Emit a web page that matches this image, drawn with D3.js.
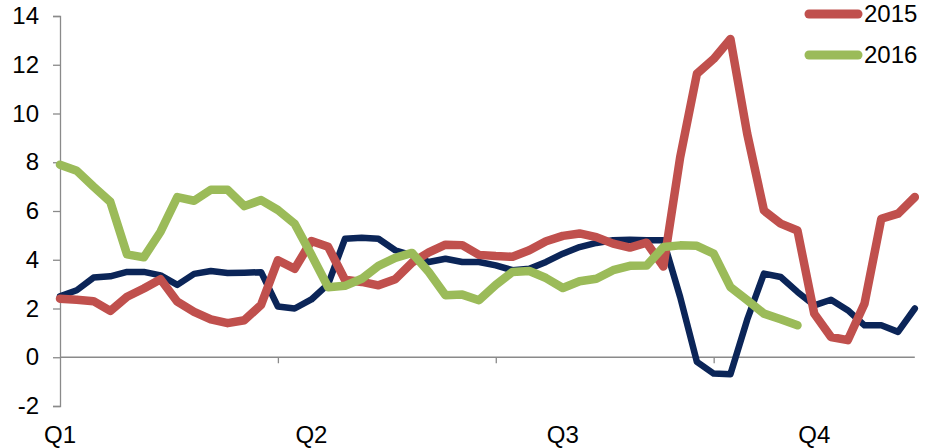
<!DOCTYPE html>
<html>
<head>
<meta charset="utf-8">
<script src="https://cdn.jsdelivr.net/npm/d3@7"></script>
<style>
  html, body { margin: 0; padding: 0; background: #fff; }
  svg { display: block; font-family: "Liberation Sans", Arial, sans-serif; }
</style>
</head>
<body>
<svg id="chart" width="926" height="448"></svg>
<script>
// Weekly series, one value per week (index 0 = first week of Q1)
const series2014 = [2.5, 2.75, 3.27, 3.32, 3.5, 3.5, 3.36, 2.97, 3.42, 3.54, 3.46, 3.47, 3.49,
  2.08, 2.0, 2.37, 3.0, 4.86, 4.9, 4.86, 4.39, 4.18, 3.91, 4.04, 3.91, 3.91, 3.77, 3.57, 3.63,
  3.91, 4.25, 4.52, 4.69, 4.8, 4.82, 4.8, 4.8, 2.47, -0.19, -0.67, -0.7, 1.54, 3.43, 3.29,
  2.68, 2.13, 2.36, 1.93, 1.31, 1.31, 1.04, 2.0];
const series2015 = [2.4, 2.36, 2.3, 1.9, 2.48, 2.82, 3.2, 2.28, 1.86, 1.55, 1.4, 1.52, 2.15,
  3.98, 3.63, 4.77, 4.53, 3.18, 3.09, 2.95, 3.2, 3.88, 4.3, 4.62, 4.6, 4.2, 4.15, 4.12, 4.39,
  4.76, 4.98, 5.08, 4.93, 4.66, 4.5, 4.7, 3.72, 8.2, 11.63, 12.24, 13.06, 9.17, 6.02, 5.48,
  5.2, 1.79, 0.83, 0.7, 2.2, 5.68, 5.89, 6.57];
const series2016 = [7.9, 7.65, 7.0, 6.38, 4.22, 4.1, 5.15, 6.57, 6.42, 6.87, 6.87, 6.2, 6.45,
  6.04, 5.48, 4.2, 2.87, 2.93, 3.22, 3.75, 4.08, 4.28, 3.5, 2.54, 2.57, 2.34, 2.97, 3.5, 3.54,
  3.25, 2.84, 3.12, 3.22, 3.57, 3.75, 3.76, 4.52, 4.59, 4.57, 4.25, 2.88, 2.34, 1.79, 1.56, 1.31];

const seriesNames = ["2014", "2015", "2016"];
const seriesColors = ["#0b2558", "#c0504d", "#9bbb59"];
const seriesWidths = [6.5, 8.5, 8.5];
const legendNames = ["2015", "2016"];

const yTicks = [-2, 0, 2, 4, 6, 8, 10, 12, 14];
const quarterLabels = ["Q1", "Q2", "Q3", "Q4"];
const quarterLabelWeeks = [0, 15, 30, 45];
const quarterTickWeeks = [13, 26, 39];
const weekCount = 52;

const svg = d3.select("#chart");
const fontSize = 24;
const axisColor = "#8a8a8a";

const x = d3.scaleLinear().domain([0, weekCount - 1]).range([60, 914.8]);
const y = d3.scaleLinear().domain([-2, 14]).range([406, 16]);

// Y axis (plain hyphen for negatives)
const yAxis = d3.axisLeft(y).tickValues(yTicks).tickSize(7).tickPadding(14)
  .tickFormat(d => String(d));
const gy = svg.append("g").attr("transform", `translate(${x(0)},0)`).call(yAxis);
gy.select(".domain").attr("stroke", axisColor).attr("stroke-width", 1.3);
gy.selectAll(".tick line").attr("stroke", axisColor).attr("stroke-width", 1.3);
gy.selectAll(".tick text").attr("fill", "#000").style("font-size", fontSize + "px")
  .style("font-family", "Liberation Sans, Arial, sans-serif");

// X axis along the zero line, ticks every quarter
const xAxis = d3.axisBottom(x).tickValues(quarterTickWeeks).tickSize(6).tickFormat("");
const gx = svg.append("g").attr("transform", `translate(0,${y(0)})`).call(xAxis);
gx.select(".domain").attr("stroke", axisColor).attr("stroke-width", 1.3)
  .attr("d", `M${x(0)},0H${x(weekCount - 1)}`);
gx.selectAll(".tick line").attr("stroke", axisColor).attr("stroke-width", 1.3);

// Quarter labels below the plot
svg.append("g").selectAll("text")
  .data(quarterLabels)
  .join("text")
  .attr("x", (d, i) => x(quarterLabelWeeks[i]))
  .attr("y", 443)
  .attr("text-anchor", "middle")
  .style("font-size", fontSize + "px")
  .attr("fill", "#000")
  .text(d => d);

// Lines
const allSeries = [series2014, series2015, series2016];
const line = d3.line().x((d, i) => x(i)).y(d => y(d));
svg.append("g").selectAll("path")
  .data(allSeries)
  .join("path")
  .attr("d", d => line(d))
  .attr("fill", "none")
  .attr("stroke", (d, i) => seriesColors[i])
  .attr("stroke-width", (d, i) => seriesWidths[i])
  .attr("stroke-linejoin", "round")
  .attr("stroke-linecap", "round");

// Legend
const legend = svg.append("g");
legendNames.forEach((name, k) => {
  const idx = seriesNames.indexOf(name);
  const ly = 14 + k * 41;
  legend.append("line")
    .attr("x1", 809).attr("x2", 858).attr("y1", ly).attr("y2", ly)
    .attr("stroke", seriesColors[idx]).attr("stroke-width", 9)
    .attr("stroke-linecap", "round");
  legend.append("text")
    .attr("x", 864).attr("y", ly).attr("dy", "0.35em")
    .style("font-size", fontSize + "px").attr("fill", "#000")
    .text(name);
});
</script>
</body>
</html>
